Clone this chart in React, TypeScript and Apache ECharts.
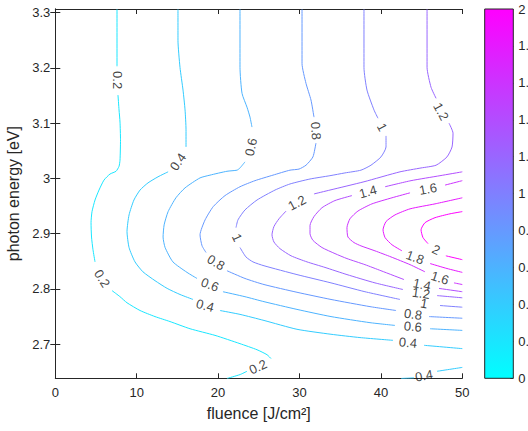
import React, { useEffect, useRef } from "react";
import * as echarts from "echarts";

// ---- axes ----
const xTicks = [0, 10, 20, 30, 40, 50];
const yTicks = [2.7, 2.8, 2.9, 3, 3.1, 3.2, 3.3];
const cbTicks = [0, 0.2, 0.4, 0.6, 0.8, 1, 1.2, 1.4, 1.6, 1.8, 2];
const yMin = 2.6383;
const yMax = 3.3067;

// ---- contour levels ----
const levels = [0.2, 0.4, 0.6, 0.8, 1, 1.2, 1.4, 1.6, 1.8, 2];

// each contour: list of line pieces [fluence, energy] (gaps are where labels sit)
const contour0_2 = [
  [[7.58, 3.306], [7.58, 3.203]],
  [[7.7, 3.151], [7.83, 3.124], [7.95, 3.102], [8.01, 3.07], [7.95, 3.033], [7.83, 3.022], [7.46, 3.013], [6.72, 3.008], [5.98, 2.997], [5.37, 2.979], [4.88, 2.961], [4.51, 2.94], [4.39, 2.92], [4.45, 2.894], [4.63, 2.871], [4.88, 2.849]],
  [[6.97, 2.797], [7.95, 2.786], [8.81, 2.775], [10.41, 2.761], [12.25, 2.75], [14.09, 2.741], [16.55, 2.728], [19.62, 2.716], [22.69, 2.701], [24.78, 2.69], [26.01, 2.681], [26.5, 2.674]],
  [[23.55, 2.651], [22.69, 2.645], [21.09, 2.638]],
];
const contour0_4 = [
  [[15.07, 3.306], [15.07, 3.25], [15.32, 3.201], [15.69, 3.16], [15.94, 3.124], [16.06, 3.088], [16.06, 3.057]],
  [[13.86, 3.012], [12.62, 3.003], [11.39, 2.992], [10.41, 2.979], [9.66, 2.961], [9.06, 2.934], [8.81, 2.904], [9.06, 2.875], [9.79, 2.849], [10.77, 2.831], [12.25, 2.815], [13.74, 2.801], [15.32, 2.79], [16.92, 2.781]],
  [[20.23, 2.761], [22.69, 2.754], [25.64, 2.743], [29.69, 2.727], [33.87, 2.718], [37.43, 2.712], [41.49, 2.707]],
  [[45.3, 2.698], [50, 2.692]],
  [[42.47, 2.638], [44.07, 2.639]],
  [[46.9, 2.651], [50, 2.658]],
];
const contour0_6 = [
  [[22.69, 3.306], [22.69, 3.201], [22.94, 3.154], [23.55, 3.129], [23.92, 3.111], [24.16, 3.093]],
  [[23.3, 3.03], [22.69, 3.019], [22.32, 3.015], [21.09, 3.013], [19.0, 3.006], [17.78, 3.001], [15.94, 2.983], [14.82, 2.965], [13.86, 2.94], [13.37, 2.916], [13.24, 2.894], [13.49, 2.875], [14.45, 2.849], [16.18, 2.83], [17.41, 2.819]],
  [[20.6, 2.795], [23.3, 2.786], [25.64, 2.777], [29.69, 2.763], [33.87, 2.75], [38.66, 2.739], [41.73, 2.734]],
  [[46.04, 2.728], [50, 2.725]],
];
const contour0_8 = [
  [[30.31, 3.306], [30.31, 3.208], [30.8, 3.172], [31.41, 3.142], [31.78, 3.111]],
  [[32.02, 3.064], [31.65, 3.039], [30.8, 3.024], [29.94, 3.017], [28.83, 3.015], [26.74, 3.006], [24.53, 2.996], [22.69, 2.985], [20.85, 2.969], [19.4, 2.949], [18.4, 2.925], [17.78, 2.898], [18.03, 2.878], [18.52, 2.866]],
  [[21.09, 2.833], [23.3, 2.819], [25.64, 2.808], [29.69, 2.794], [33.87, 2.781], [38.66, 2.768], [41.86, 2.761]],
  [[45.91, 2.75], [50, 2.747]],
];
const contour1_0 = [
  [[37.92, 3.306], [37.92, 3.201], [38.29, 3.16], [39.15, 3.124], [39.64, 3.109]],
  [[40.63, 3.077], [40.63, 3.057], [40.01, 3.039], [38.78, 3.024], [37.55, 3.015], [35.58, 3.01], [33.74, 3.005], [31.29, 2.999], [28.83, 2.99], [26.99, 2.979], [24.78, 2.961], [23.3, 2.943], [22.44, 2.925], [22.2, 2.911]],
  [[22.69, 2.875], [23.42, 2.858], [24.28, 2.849], [25.64, 2.842], [29.69, 2.826], [33.87, 2.811], [38.04, 2.795], [42.35, 2.781]],
  [[47.26, 2.77], [50, 2.767]],
];
const contour1_2 = [
  [[45.67, 3.306], [45.67, 3.201], [46.16, 3.165], [46.78, 3.145]],
  [[48.37, 3.1], [48.86, 3.082], [48.74, 3.057], [48.12, 3.039], [46.78, 3.024], [44.93, 3.019], [42.35, 3.012], [37.92, 2.994], [33.74, 2.979], [31.78, 2.972]],
  [[28.35, 2.941], [27.48, 2.927], [26.86, 2.913], [26.62, 2.898], [26.86, 2.885], [27.6, 2.873], [28.96, 2.86], [30.92, 2.849], [33.13, 2.839], [35.83, 2.826], [39.27, 2.811], [42.71, 2.799]],
  [[46.9, 2.788], [50, 2.784]],
];
const contour1_4 = [
  [[50, 3.012], [47.26, 3.005], [43.7, 2.996], [40.51, 2.985]],
  [[36.45, 2.969], [34.36, 2.96], [32.76, 2.947], [31.78, 2.931], [31.29, 2.915], [31.29, 2.9], [31.65, 2.888], [32.76, 2.875], [34.36, 2.864], [35.83, 2.855], [38.04, 2.844], [40.01, 2.833], [42.84, 2.817]],
  [[47.14, 2.801], [50, 2.795]],
];
const contour1_6 = [
  [[50, 2.996], [47.88, 2.988]],
  [[43.58, 2.974], [41.36, 2.965], [38.9, 2.954], [37.18, 2.941], [36.2, 2.927], [35.83, 2.911], [35.95, 2.894], [36.69, 2.884], [37.55, 2.878], [39.27, 2.869], [41.24, 2.858], [43.58, 2.844], [45.42, 2.831]],
  [[48.98, 2.811], [50, 2.808]],
];
const contour1_8 = [
  [[50, 2.965], [46.65, 2.954], [43.58, 2.945], [41.73, 2.934], [40.63, 2.922], [40.26, 2.907], [40.51, 2.893], [41.36, 2.88], [42.59, 2.869]],
  [[46.04, 2.846], [48.12, 2.837], [50, 2.83]],
];
const contour2_0 = [
  [[50, 2.94], [48.49, 2.936], [46.65, 2.929], [45.42, 2.92], [44.93, 2.907], [45.17, 2.893], [45.79, 2.882]],
  [[47.98, 2.86], [50, 2.853]],
];
const contours = [contour0_2, contour0_4, contour0_6, contour0_8, contour1_0, contour1_2, contour1_4, contour1_6, contour1_8, contour2_0];

// inline labels: [level, fluence, energy, angle]
const contourLabels = [
  [0.2, 7.58, 3.178, -90],
  [0.2, 5.74, 2.819, -58],
  [0.2, 24.9, 2.659, 25],
  [0.4, 15.07, 3.03, 55],
  [0.4, 18.4, 2.77, -15],
  [0.4, 43.33, 2.703, -5],
  [0.4, 45.3, 2.643, 10],
  [0.6, 24.04, 3.057, 78],
  [0.6, 19.0, 2.808, -20],
  [0.6, 43.94, 2.732, -5],
  [0.8, 32.02, 3.086, -85],
  [0.8, 19.75, 2.848, -30],
  [0.8, 43.94, 2.754, -8],
  [1, 40.14, 3.093, -63],
  [1, 22.32, 2.893, -65],
  [1, 45.3, 2.774, -10],
  [1.2, 47.39, 3.121, -62],
  [1.2, 29.69, 2.956, 28],
  [1.2, 44.93, 2.792, -8],
  [1.4, 38.41, 2.976, 15],
  [1.4, 45.05, 2.808, -12],
  [1.6, 45.79, 2.981, 10],
  [1.6, 47.26, 2.82, -18],
  [1.8, 44.19, 2.857, -20],
  [2, 46.78, 2.871, -25],
];

const cMin = 0;
const cMax = 2;
const coolColor = (v: number) => {
  const t = (v - cMin) / (cMax - cMin);
  return `rgb(${Math.round(255 * t)},${Math.round(255 * (1 - t))},255)`;
};
const fmt = (v: number) => String(Number(v.toFixed(2)));

const FONT = "'Liberation Sans', Arial, Helvetica, sans-serif";
const AX = "#262626";

export default function App() {
  const ref = useRef<HTMLDivElement>(null);
  useEffect(() => {
    if (!ref.current) return;
    const chart = echarts.init(ref.current, null, { renderer: "svg" });
    const series: any[] = [];
    contours.forEach((pieces, i) => {
      pieces.forEach((piece) => {
        series.push({
          type: "line",
          xAxisIndex: 0,
          yAxisIndex: 0,
          data: piece,
          showSymbol: false,
          symbol: "none",
          smooth: 0.2,
          lineStyle: { color: coolColor(levels[i]), width: 1 },
          silent: true,
          z: 2,
        });
      });
    });
    series.push({
      type: "scatter",
      xAxisIndex: 0,
      yAxisIndex: 0,
      symbolSize: 1,
      itemStyle: { color: "rgba(0,0,0,0)" },
      silent: true,
      z: 5,
      data: contourLabels.map(([lv, x, y, a]) => ({
        value: [x, y],
        label: { rotate: a, formatter: fmt(lv) },
      })),
      label: {
        show: true,
        position: "inside",
        color: "#111",
        fontSize: 13,
        fontFamily: FONT,
      },
    });
    series.push({
      type: "bar",
      xAxisIndex: 2,
      yAxisIndex: 2,
      data: [cMax],
      barWidth: "100%",
      silent: true,
      itemStyle: {
        color: new echarts.graphic.LinearGradient(0, 1, 0, 0, [
          { offset: 0, color: coolColor(cMin) },
          { offset: 1, color: coolColor(cMax) },
        ]),
      },
    });

    const tickLabel = { color: AX, fontSize: 13, fontFamily: FONT };
    chart.setOption({
      animation: false,
      textStyle: { fontFamily: FONT },
      grid: [
        { left: 55.3, top: 9, right: 65.7, bottom: 52.7, show: false, outerBoundsMode: "none", containLabel: false },
        { left: 484.7, top: 9, right: 14.7, bottom: 52.7, show: true, borderColor: AX, borderWidth: 1, backgroundColor: "transparent", z: 3, outerBoundsMode: "none", containLabel: false },
      ],
      xAxis: [
        {
          gridIndex: 0, type: "value", min: xTicks[0], max: xTicks[xTicks.length - 1], interval: 10, position: "bottom",
          name: "fluence [J/cm²]", nameLocation: "middle", nameGap: 27,
          nameTextStyle: { color: AX, fontSize: 16, fontFamily: FONT },
          axisLine: { show: true, lineStyle: { color: AX, width: 1 } },
          axisTick: { show: true, inside: true, length: 5, lineStyle: { color: AX } },
          axisLabel: { ...tickLabel, margin: 8 },
          splitLine: { show: false },
        },
        {
          gridIndex: 0, type: "value", min: xTicks[0], max: xTicks[xTicks.length - 1], interval: 10, position: "top",
          axisLine: { show: true, lineStyle: { color: AX, width: 1 } },
          axisTick: { show: true, inside: true, length: 5, lineStyle: { color: AX } },
          axisLabel: { show: false },
          splitLine: { show: false },
        },
        { gridIndex: 1, type: "category", data: ["c"], show: false, boundaryGap: true },
      ],
      yAxis: [
        {
          gridIndex: 0, type: "value", min: yMin, max: yMax, position: "left",
          name: "photon energy [eV]", nameLocation: "middle", nameGap: 29, nameRotate: 90,
          nameTextStyle: { color: AX, fontSize: 16, fontFamily: FONT },
          axisLine: { show: true, lineStyle: { color: AX, width: 1 } },
          axisTick: { show: true, inside: true, length: 5, customValues: yTicks, lineStyle: { color: AX } },
          axisLabel: { ...tickLabel, margin: 5, customValues: yTicks, formatter: (v: number) => fmt(v) },
          splitLine: { show: false },
        },
        {
          gridIndex: 0, type: "value", min: yMin, max: yMax, position: "right",
          axisLine: { show: true, lineStyle: { color: AX, width: 1 } },
          axisTick: { show: true, inside: true, length: 5, customValues: yTicks, lineStyle: { color: AX } },
          axisLabel: { show: false, customValues: yTicks },
          splitLine: { show: false },
        },
        {
          gridIndex: 1, type: "value", min: cMin, max: cMax, interval: 0.2, position: "right",
          axisLine: { show: false },
          axisTick: { show: true, inside: true, length: 3, lineStyle: { color: AX } },
          axisLabel: { ...tickLabel, margin: 5, customValues: cbTicks, formatter: (v: number) => fmt(v) },
          splitLine: { show: false },
        },
      ],
      series,
    });
    return () => chart.dispose();
  }, []);
  return (
    <div
      ref={ref}
      style={{ position: "absolute", left: 0, top: 0, width: 528, height: 431, background: "#fff" }}
    />
  );
}
